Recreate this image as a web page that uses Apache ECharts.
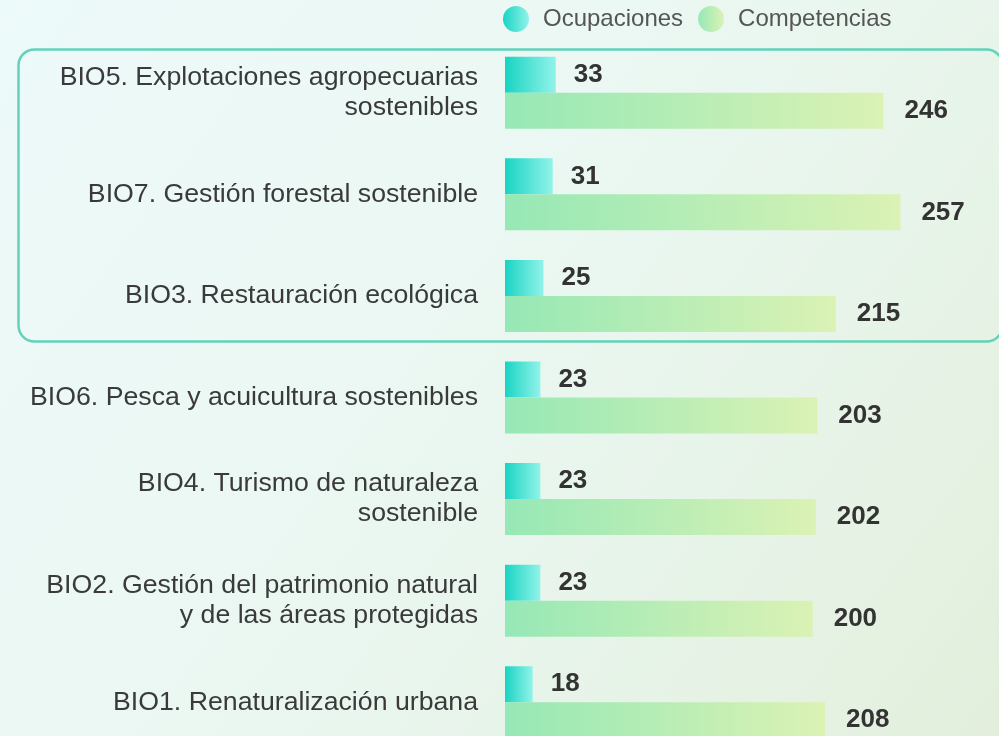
<!DOCTYPE html>
<html>
<head>
<meta charset="utf-8">
<script src="https://cdn.jsdelivr.net/npm/echarts@6/dist/echarts.min.js"></script>
<style>
html,body{margin:0;padding:0;}
#main{width:999px;height:736px;}
</style>
</head>
<body>
<div id="main"></div>
<script>
var categories = [
	'BIO5. Explotaciones agropecuarias\nsostenibles',
	'BIO7. Gestión forestal sostenible',
	'BIO3. Restauración ecológica',
	'BIO6. Pesca y acuicultura sostenibles',
	'BIO4. Turismo de naturaleza\nsostenible',
	'BIO2. Gestión del patrimonio natural\ny de las áreas protegidas',
	'BIO1. Renaturalización urbana'
];
var ocupaciones = [33, 31, 25, 23, 23, 23, 18];
var competencias = [246, 257, 215, 203, 202, 200, 208];
var seriesNames = ['Ocupaciones', 'Competencias'];

var font = '"Liberation Sans", Arial, sans-serif';

function grad(c1, c2){
	return new echarts.graphic.LinearGradient(0, 0, 1, 0, [
		{offset: 0, color: c1},
		{offset: 1, color: c2}
	]);
}

// two-line labels sit a little lower than the band centre
var axisData = categories.map(function(c){
	if (c.indexOf('\n') >= 0) {
		return {value: c, textStyle: {padding: [5, 0, 0, 0]}};
	}
	return c;
});

var myChart = echarts.init(document.getElementById('main'));

var option = {
	backgroundColor: new echarts.graphic.LinearGradient(0, 0, 1, 1, [
		{offset: 0, color: '#edfafa'},
		{offset: 0.5, color: '#eaf7f1'},
		{offset: 1, color: '#e3efdc'}
	]),
	animation: false,
	textStyle: {fontFamily: font},
	legend: {
		data: seriesNames,
		left: 498,
		top: 1,
		icon: 'circle',
		itemWidth: 44,
		itemHeight: 26,
		itemGap: 15,
		textStyle: {fontSize: 24, color: '#555555', fontFamily: font}
	},
	grid: {
		left: 505,
		top: 42,
		width: 400,
		height: 711,
		containLabel: false,
		outerBoundsMode: 'none'
	},
	xAxis: {
		type: 'value',
		min: 0,
		max: 260,
		show: false
	},
	yAxis: {
		type: 'category',
		data: axisData,
		inverse: true,
		axisLine: {show: false},
		axisTick: {show: false},
		splitLine: {show: false},
		axisLabel: {
			margin: 27,
			fontSize: 26.7,
			lineHeight: 30,
			color: '#3a3a3a',
			fontFamily: font,
			align: 'right'
		}
	},
	graphic: [{
		type: 'rect',
		left: 16,
		top: 47,
		shape: {width: 984, height: 292, r: 16},
		style: {fill: 'none', stroke: '#62d2b9', lineWidth: 2.5},
		z: 0,
		silent: true
	}],
	series: [
		{
			name: seriesNames[0],
			type: 'bar',
			data: ocupaciones,
			barWidth: 36,
			barGap: '0%',
			itemStyle: {color: grad('#18d4c3', '#92f3e9')},
			label: {
				show: true,
				position: 'right',
				distance: 18,
				fontSize: 26,
				fontWeight: 'bold',
				color: '#333333',
				fontFamily: font
			}
		},
		{
			name: seriesNames[1],
			type: 'bar',
			data: competencias,
			barWidth: 36,
			barGap: '0%',
			itemStyle: {color: grad('#96e8b6', '#dbf2b4')},
			label: {
				show: true,
				position: 'right',
				distance: 21,
				fontSize: 26,
				fontWeight: 'bold',
				color: '#333333',
				fontFamily: font
			}
		}
	]
};
myChart.setOption(option);
</script>
</body>
</html>
